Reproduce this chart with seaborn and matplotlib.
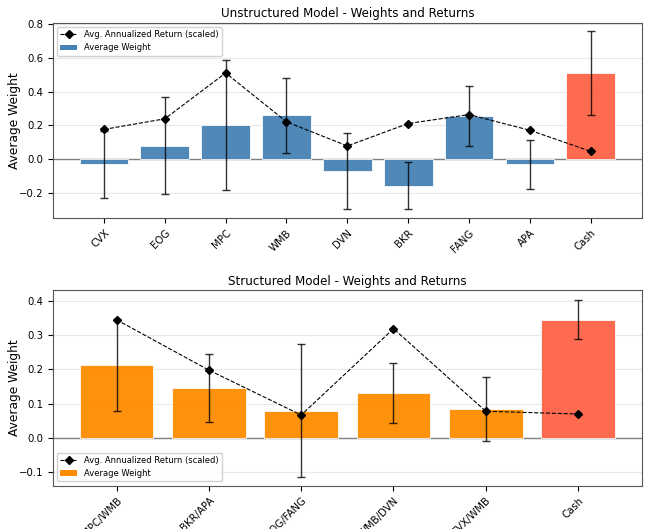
import matplotlib as mpl
import matplotlib.pyplot as plt
import seaborn as sns
from matplotlib.patches import Patch

mpl.use("agg")

# Unstructured model
U_NAMES = ["CVX", "EOG", "MPC", "WMB", "DVN", "BKR", "FANG", "APA", "Cash"]
U_WEIGHT = [-0.033, 0.077, 0.203, 0.26, -0.07, -0.158, 0.255, -0.033, 0.51]
U_ERR = [0.20, 0.288, 0.385, 0.222, 0.225, 0.14, 0.178, 0.144, 0.248]
U_RET = [0.175, 0.238, 0.51, 0.22, 0.077, 0.21, 0.263, 0.17, 0.045]

# Structured model
S_NAMES = ["MPC/WMB", "BKR/APA", "EOG/FANG", "WMB/DVN", "CVX/WMB", "Cash"]
S_WEIGHT = [0.212, 0.146, 0.08, 0.132, 0.084, 0.345]
S_ERR = [0.134, 0.10, 0.195, 0.087, 0.094, 0.057]
S_RET = [0.345, 0.198, 0.067, 0.319, 0.078, 0.07]


def draw(ax, names, weights, errs, rets, color, title, loc, ylim):
    n = len(names)
    colors = [("tomato" if name == "Cash" else color) for name in names]
    ax.errorbar(range(n), weights, yerr=errs, fmt="none",
                ecolor="black", elinewidth=1, capsize=3, capthick=1,
                alpha=0.8, zorder=4)
    sns.barplot(x=names, y=weights, hue=names, palette=colors, legend=False,
                ax=ax, edgecolor="white", linewidth=0.6, saturation=1,
                width=0.8, alpha=0.95, zorder=3)
    line, = ax.plot(range(n), rets, "k--", marker="D",
                    markersize=4.5, linewidth=0.8, zorder=5,
                    label="Avg. Annualized Return (scaled)")
    ax.axhline(0, color="gray", linewidth=1, zorder=2)
    ax.grid(axis="y", color="#e8e8e8", linewidth=0.8, zorder=0)
    ax.set_axisbelow(True)
    # matplotlib's default 5% margins around the bars
    pad = 0.05 * (n - 0.2)
    ax.set_xlim(-0.4 - pad, n - 0.6 + pad)
    ax.set_ylim(*ylim)
    ax.set_title(title, fontsize=8.6, pad=4)
    ax.set_ylabel("Average Weight", fontsize=8.8)
    ax.yaxis.set_label_coords(-0.054, 0.5)
    ax.set_xlabel("")
    ax.tick_params(axis="y", labelsize=7.3)
    ax.tick_params(axis="x", labelsize=7.3, rotation=45)
    for lab in ax.get_xticklabels():
        lab.set_ha("right")
        lab.set_rotation_mode("anchor")
    for sp in ax.spines.values():
        sp.set_color("#555555")
    handles = [line, Patch(facecolor=color, label="Average Weight")]
    ax.legend(handles=handles, loc=loc, fontsize=6, framealpha=0.9)


fig, (ax1, ax2) = plt.subplots(2, 1, figsize=(6.45, 5.29), dpi=100)
fig.subplots_adjust(left=0.082, right=0.995, top=0.957, bottom=0.082,
                    hspace=0.37)

draw(ax1, U_NAMES, U_WEIGHT, U_ERR, U_RET, "steelblue",
     "Unstructured Model - Weights and Returns", "upper left", (-0.351, 0.808))
draw(ax2, S_NAMES, S_WEIGHT, S_ERR, S_RET, "darkorange",
     "Structured Model - Weights and Returns", "lower left", (-0.139, 0.431))

fig.savefig("out.png", dpi=100)
